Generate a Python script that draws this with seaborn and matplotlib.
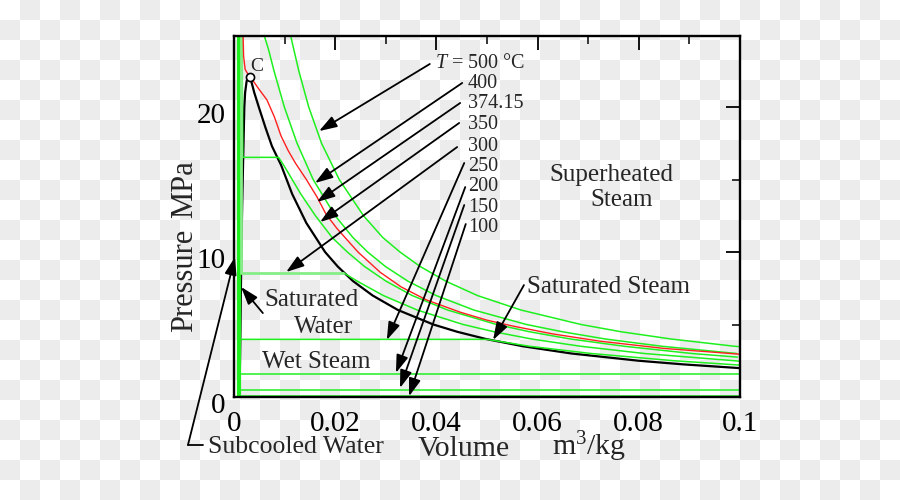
import numpy as np
import matplotlib
matplotlib.use('Agg')
import matplotlib.pyplot as plt
import matplotlib.transforms as mtransforms
import seaborn as sns

# Saturation dome, v in m3/kg, P in MPa
sat_liq_v = [0.00104, 0.00106, 0.00115, 0.00125, 0.00132, 0.00145, 0.00166, 0.00204, 0.00220, 0.00250, 0.00311]
sat_liq_P = [0.0, 0.5, 1.5, 4.0, 6.0, 10.0, 14.0, 20.0, 21.0, 21.8, 22.064]
sat_vap_v = [0.00311, 0.0034, 0.0040, 0.0049, 0.0062, 0.0075, 0.0093, 0.0115, 0.0143, 0.0180, 0.0205,
             0.0235, 0.0274, 0.0324, 0.0394, 0.0441, 0.0498, 0.0571, 0.0667, 0.0800, 0.0888, 0.0996, 0.1000]
sat_vap_P = [22.064, 21.8, 21.0, 20.0, 18.6, 17.3, 16.0, 14.0, 12.0, 10.0, 9.0,
             8.0, 7.0, 6.0, 5.0, 4.5, 4.0, 3.5, 3.0, 2.5, 2.25, 2.0, 1.99]

# isotherms below the critical point
t100_v = [0.00104, 0.00104, 0.1]
t100_P = [24.9, 0.101, 0.101]
t150_v = [0.00109, 0.00109, 0.1]
t150_P = [24.9, 0.476, 0.476]
t200_v = [0.00116, 0.00116, 0.1]
t200_P = [24.9, 1.555, 1.555]
t250_v = [0.00125, 0.00125, 0.0500, 0.0584, 0.0706, 0.0870, 0.1000]
t250_P = [24.9, 3.976, 3.976, 3.5, 3.0, 2.5, 2.2]
t300_flat_v = [0.00140, 0.00140, 0.0216]
t300_flat_P = [24.9, 8.58, 8.58]
t300_v = [0.0216, 0.0243, 0.0295, 0.0362, 0.0453, 0.0514, 0.0588, 0.0685, 0.0811, 0.0989, 0.1000]
t300_P = [8.58, 8.0, 7.0, 6.0, 5.0, 4.5, 4.0, 3.5, 3.0, 2.5, 2.47]
t350_v = [0.00160, 0.00174, 0.00881, 0.0098, 0.0115, 0.0132, 0.0161, 0.0194, 0.0224, 0.0258, 0.0300,
          0.0352, 0.0422, 0.0519, 0.0584, 0.0665, 0.0771, 0.0905, 0.0995]
t350_P = [24.9, 16.53, 16.53, 16.0, 15.0, 14.0, 12.5, 11.0, 10.0, 9.0, 8.0,
          7.0, 6.0, 5.0, 4.5, 4.0, 3.5, 3.0, 2.75]

# critical isotherm 374.15 C
tc_v = [0.0018, 0.0019, 0.0022, 0.0031, 0.0040, 0.0050, 0.0065, 0.0080, 0.0093, 0.0107, 0.0122, 0.0143,
        0.0164, 0.0182, 0.0204, 0.0245, 0.0289, 0.0330, 0.0380, 0.0447, 0.0500, 0.0550, 0.0630, 0.0723,
        0.0850, 0.1000]
tc_P = [24.9, 23.5, 22.6, 22.06, 21.7, 21.2, 20.5, 19.3, 18.0, 17.0, 16.1, 15.0,
        13.8, 12.6, 11.6, 10.0, 8.6, 7.6, 6.7, 5.85, 5.3, 4.9, 4.35, 3.85,
        3.35, 2.95]

# isotherms above the critical point
t400_v = [0.0060, 0.0068, 0.0079, 0.00995, 0.01246, 0.01565, 0.0200, 0.0235, 0.02641, 0.02993, 0.03432,
          0.03993, 0.04739, 0.05781, 0.0649, 0.07341, 0.08453, 0.09936]
t400_P = [24.9, 24.0, 22.5, 20.0, 17.5, 15.0, 12.5, 11.0, 10.0, 9.0, 8.0,
          7.0, 6.0, 5.0, 4.5, 4.0, 3.5, 3.0]
t500_v = [0.0112, 0.0128, 0.01477, 0.0173, 0.0208, 0.0256, 0.0294, 0.0328, 0.0368, 0.0418, 0.0481,
          0.0567, 0.0686, 0.0765, 0.0864, 0.0989, 0.1000]
t500_P = [24.9, 22.5, 20.0, 17.5, 15.0, 12.5, 11.0, 10.0, 9.0, 8.0, 7.0,
          6.0, 5.0, 4.5, 4.0, 3.5, 3.47]

crit_v = [0.00311]
crit_P = [22.064]

temp_labels = ['400', '374.15', '350', '300', '250', '200', '150', '100']
x_major = [0, 0.02, 0.04, 0.06, 0.08, 0.1]
x_major_labels = ['0', '0.02', '0.04', '0.06', '0.08', '0.1']
x_minor = [0.01, 0.03, 0.05, 0.07, 0.09]
y_major = [0, 10, 20]
y_major_labels = ['0', '10', '20']
y_minor = [5, 15]

sns.set_theme(style='white')
plt.rcParams['font.family'] = ['Liberation Serif', 'DejaVu Serif']
plt.rcParams['mathtext.fontset'] = 'custom'
plt.rcParams['mathtext.rm'] = 'Liberation Serif'
plt.rcParams['mathtext.it'] = 'Liberation Serif:italic'

fig = plt.figure(figsize=(9, 5), dpi=100)

# transparent-style checker background
ii, jj = np.indices((500, 900)) // 20
checker = np.where((ii + jj) % 2 == 1, 0.925, 1.0)
fig.figimage(checker, cmap='gray', vmin=0, vmax=1, zorder=-1)

ax = fig.add_axes([234 / 900, 103 / 500, 506 / 900, 361 / 500])
ax.set_facecolor('none')

green = '#1ef01e'
sns.lineplot(x=sat_liq_v, y=sat_liq_P, sort=False, estimator=None, color='black', linewidth=1.6, ax=ax)
sns.lineplot(x=sat_vap_v, y=sat_vap_P, sort=False, estimator=None, color='black', linewidth=1.6, ax=ax)

for v, p in [(t100_v, t100_P), (t150_v, t150_P), (t200_v, t200_P), (t250_v, t250_P),
             (t300_v, t300_P), (t350_v, t350_P), (t400_v, t400_P), (t500_v, t500_P)]:
    sns.lineplot(x=v, y=p, sort=False, estimator=None, color=green, linewidth=1.1, ax=ax)
# compressed-liquid parts bunch up into one thick band
sns.lineplot(x=t100_v[:2], y=t100_P[:2], sort=False, estimator=None, color=green, linewidth=3.0, ax=ax)
sns.lineplot(x=t300_flat_v, y=t300_flat_P, sort=False, estimator=None, color='#86ee86', linewidth=2.0, ax=ax)
sns.lineplot(x=tc_v, y=tc_P, sort=False, estimator=None, color='#ff2020', linewidth=1.0, ax=ax)

sns.scatterplot(x=crit_v, y=crit_P, s=34, color='white', edgecolor='black', linewidth=1.2, zorder=5, ax=ax)

ax.set_xlim(0, 0.1)
ax.set_ylim(0, 24.9)
ax.set_xlabel('')
ax.set_ylabel('')
ax.set_xticks(x_major)
ax.set_xticklabels(x_major_labels)
ax.set_xticks(x_minor, minor=True)
ax.set_yticks(y_major)
ax.set_yticklabels(y_major_labels)
ax.set_yticks(y_minor, minor=True)
ax.tick_params(which='major', direction='in', length=10, width=1.3, top=True, right=True,
               labelsize=21, colors='black')
ax.tick_params(axis='x', which='major', pad=10)
ax.tick_params(axis='y', which='major', pad=6)
ax.tick_params(which='minor', direction='in', length=6, width=1.3, top=True, right=True)
for s in ax.spines.values():
    s.set_color('black')
    s.set_linewidth(1.7)
shift = mtransforms.ScaledTranslation(0, -4 / 72, fig.dpi_scale_trans)
for lbl in ax.yaxis.get_majorticklabels():
    lbl.set_transform(lbl.get_transform() + shift)

arrow = dict(arrowstyle='-|>,head_length=0.9,head_width=0.3', mutation_scale=12,
             color='black', lw=1.3, shrinkA=0, shrinkB=0)

# temperature labels and their arrows
ax.text(0.0397, 22.97, '$T$ = 500 °C', fontsize=14.5, ha='left', va='center')
ax.annotate('', xy=(0.0168, 18.34), xytext=(0.0387, 22.97), arrowprops=arrow)
label_P = [21.59, 20.21, 18.83, 17.31, 15.93, 14.55, 13.10, 11.72]
tails = [(0.0451, 21.66), (0.0447, 20.28), (0.0445, 18.90), (0.0441, 17.24),
         (0.0455, 16.14), (0.0457, 14.48), (0.0455, 13.24), (0.0458, 11.93)]
heads = [(0.0160, 14.76), (0.0164, 13.45), (0.0170, 12.07), (0.0103, 8.62),
         (0.0302, 3.93), (0.0320, 1.66), (0.0328, 0.62), (0.0346, 0.05)]
for lab, py, t, h in zip(temp_labels, label_P, tails, heads):
    ax.text(0.04625, py, lab, fontsize=14.5, ha='left', va='center')
    ax.annotate('', xy=h, xytext=t, arrowprops=arrow)

ax.text(0.0045, 22.83, 'C', fontsize=14, ha='center', va='center')

# region labels
ax.text(0.0745, 15.31, 'Superheated', fontsize=18, ha='center', va='center')
ax.text(0.0767, 13.59, 'Steam', fontsize=18, ha='center', va='center')
ax.text(0.0579, 7.59, 'Saturated Steam', fontsize=18, ha='left', va='center')
ax.annotate('', xy=(0.0512, 3.93), xytext=(0.0573, 7.72), arrowprops=arrow)
ax.text(0.0061, 6.69, 'Saturated', fontsize=18, ha='left', va='center')
ax.text(0.0119, 4.83, 'Water', fontsize=18, ha='left', va='center')
ax.annotate('', xy=(0.0014, 7.59), xytext=(0.0057, 5.79), arrowprops=arrow)
ax.text(0.0055, 2.41, 'Wet Steam', fontsize=18, ha='left', va='center')

# subcooled water leader
ax.plot([-0.0061, -0.0091], [-3.31, -3.31], color='black', lw=1.3, clip_on=False)
ax.annotate('', xy=(0.0002, 9.66), xytext=(-0.0091, -3.31), arrowprops=arrow,
            annotation_clip=False)
fig.text(208 / 900, 1 - 447 / 500, 'Subcooled Water', fontsize=18.5, ha='left', va='center')

# axis titles
fig.text(418 / 900, 1 - 449 / 500, 'Volume', fontsize=21.5, ha='left', va='center')
fig.text(552 / 900, 1 - 447 / 500, 'm$^3$/kg', fontsize=21.5, ha='left', va='center')
fig.text(185 / 900, 1 - 280 / 500, 'Pressure', fontsize=22, rotation=90, ha='center', va='center')
fig.text(185 / 900, 1 - 189 / 500, 'MPa', fontsize=22, rotation=90, ha='center', va='center')

fig.savefig('out.png', dpi=100)
